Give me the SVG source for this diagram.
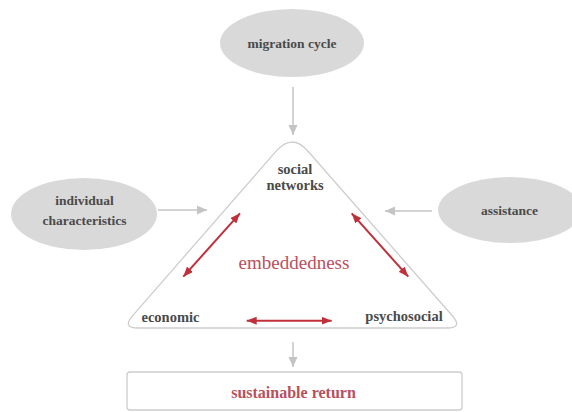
<svg xmlns="http://www.w3.org/2000/svg" width="572" height="412" viewBox="0 0 572 412">
<defs>
<style>
.ell{fill:#d9d9d9;stroke:none}
.lbl{font-family:"Liberation Serif","Times New Roman",serif;font-weight:bold;font-size:13.5px;fill:#4a4a4a;text-anchor:middle}
.corner{font-family:"Liberation Serif","Times New Roman",serif;font-weight:bold;font-size:14.5px;fill:#4a4a4a;text-anchor:middle}
.red{fill:#b9505c;font-family:"Liberation Serif","Times New Roman",serif;text-anchor:middle}
.garr{stroke:#c4c4c4;stroke-width:1.5;fill:none}
.rarr{stroke:#c0303a;stroke-width:2;fill:none}
.outline{fill:#fff;stroke:#cdcdcd;stroke-width:1.3}
</style>
<marker id="gh" markerUnits="userSpaceOnUse" markerWidth="10" markerHeight="10" viewBox="0 0 10 10" refX="10" refY="5" orient="auto">
<path d="M0,0.5 L10,5 L0,9.5 Z" fill="#c4c4c4"/>
</marker>
<marker id="rh" markerUnits="userSpaceOnUse" markerWidth="10" markerHeight="8" viewBox="0 0 10 8" refX="10" refY="4" orient="auto-start-reverse">
<path d="M0,0 L10,4 L0,8 Z" fill="#c0303a"/>
</marker>
</defs>

<g id="connectors">
<line class="garr" x1="293" y1="87" x2="293" y2="135" marker-end="url(#gh)"/>
<line class="garr" x1="158" y1="210" x2="207" y2="210" marker-end="url(#gh)"/>
<line class="garr" x1="432" y1="211" x2="385" y2="211" marker-end="url(#gh)"/>
<line class="garr" x1="293" y1="342" x2="293" y2="367" marker-end="url(#gh)"/>
</g>

<g id="migration-cycle">
<ellipse class="ell" cx="292" cy="43" rx="72" ry="34"/>
<text class="lbl" x="292" y="47.5">migration cycle</text>
</g>

<g id="individual-characteristics">
<ellipse class="ell" cx="84" cy="214" rx="73" ry="36"/>
<text class="lbl" x="84.5" y="205">individual</text>
<text class="lbl" x="84.5" y="225">characteristics</text>
</g>

<g id="assistance">
<ellipse class="ell" cx="510" cy="210" rx="72" ry="33"/>
<text class="lbl" x="509.5" y="214.5">assistance</text>
</g>

<g id="embeddedness">
<path class="outline" d="M276.2,151.1 Q292,133 307.8,151 L452.5,316 Q463,328 447,328 L138,328 Q122,328 132.5,315.9 Z"/>
<text class="corner" x="295" y="174" font-size="14">social</text>
<text class="corner" x="295" y="189.6" font-size="14">networks</text>
<text class="corner" x="170.5" y="322">economic</text>
<text class="corner" x="404" y="321">psychosocial</text>
<text class="red" x="294" y="269" font-size="19">embeddedness</text>
<g id="embeddedness-arrows">
<line class="rarr" x1="183.3" y1="276.7" x2="240" y2="213.3" marker-start="url(#rh)" marker-end="url(#rh)"/>
<line class="rarr" x1="351.7" y1="213.3" x2="408.3" y2="276.7" marker-start="url(#rh)" marker-end="url(#rh)"/>
<line class="rarr" x1="246.7" y1="320.7" x2="331.7" y2="320.7" marker-start="url(#rh)" marker-end="url(#rh)"/>
</g>
</g>

<g id="sustainable-return">
<rect x="127" y="372" width="335" height="38" rx="3" fill="#fff" stroke="#cdcdcd" stroke-width="1.3"/>
<text class="red" x="293.5" y="397.5" font-size="16" font-weight="bold">sustainable return</text>
</g>
</svg>
